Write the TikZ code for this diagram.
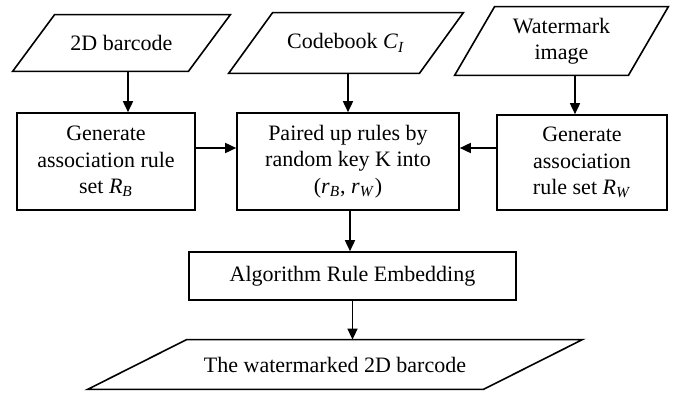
\documentclass[tikz,border=0pt]{standalone}
\usepackage{fontspec}
\setmainfont{Liberation Serif}
\usetikzlibrary{arrows.meta}
\begin{document}
\begin{tikzpicture}[x=0.5pt,y=-0.5pt,
  every node/.style={font=\fontsize{11}{13.2}\selectfont, inner sep=0pt, align=center},
  procbox/.style={draw, line width=0.8pt, minimum width=#1},
  iobox/.style={minimum width=#1},
  iolines/.style={line width=0.8pt, line join=miter},
  flow/.style={line width=0.8pt, -{Triangle[length=5.5pt,width=5pt]}}
]
\useasboundingbox (0,0) rectangle (675,396);
% inputs
\node[iobox=108.5pt, minimum height=28pt] (p1) at (121.5,43) {2D barcode};
\node[iobox=117pt, minimum height=30pt] (p2) at (346,43) {Codebook \textit{C}\textsubscript{\textit{I}}};
\node[iobox=106.5pt, minimum height=34pt] (p3) at (561.5,41) {Watermark\\image};
\node[iobox=247pt, minimum height=24.5pt] (out) at (335,364.5) {The watermarked 2D barcode};
\draw[iolines] (p1.south west) -- ([xshift=21pt]p1.north west) -- (p1.north east) -- ([xshift=-21pt]p1.south east) -- cycle;
\draw[iolines] (p2.south west) -- ([xshift=22pt]p2.north west) -- (p2.north east) -- ([xshift=-22pt]p2.south east) -- cycle;
\draw[iolines] (p3.south west) -- ([xshift=20pt]p3.north west) -- (p3.north east) -- ([xshift=-20pt]p3.south east) -- cycle;
\draw[iolines] (out.south west) -- ([xshift=49.5pt]out.north west) -- (out.north east) -- ([xshift=-49.5pt]out.south east) -- cycle;
% process boxes
\node[procbox=89pt, minimum height=48.5pt] (b1) at (106,161.5) {Generate\\association rule\\set \textit{R}\textsubscript{\textit{B}}};
\node[procbox=111pt, minimum height=48.5pt] (b2) at (348,161.5) {Paired up rules by\\random key K into\\(\textit{r}\textsubscript{\textit{B}}, \textit{r}\textsubscript{\textit{W}})};
\node[procbox=85pt, minimum height=47.5pt] (b3) at (582,162.5) {Generate\\association\\rule set \textit{R}\textsubscript{\textit{W}}};
\node[procbox=163.5pt, minimum height=24pt] (b4) at (352.5,276) {Algorithm Rule Embedding};
% connectors
\draw[flow] ([xshift=3.25pt]p1.south) -- ([xshift=3.25pt]p1.south |- b1.north);
\draw[flow] (p2.south -| b2.north) -- (b2.north);
\draw[flow] ([xshift=6.75pt]p3.south) -- ([xshift=6.75pt]p3.south |- b3.north);
\draw[flow] ([yshift=6.75pt]b1.east) -- ([yshift=6.75pt]b1.east -| b2.west);
\draw[flow] ([yshift=7.25pt]b3.west) -- ([yshift=7.25pt]b3.west -| b2.east);
\draw[flow] ([xshift=1pt]b2.south) -- ([xshift=1pt]b2.south |- b4.north);
\draw[flow] (b4.south) -- (b4.south |- out.north);
\end{tikzpicture}
\end{document}
